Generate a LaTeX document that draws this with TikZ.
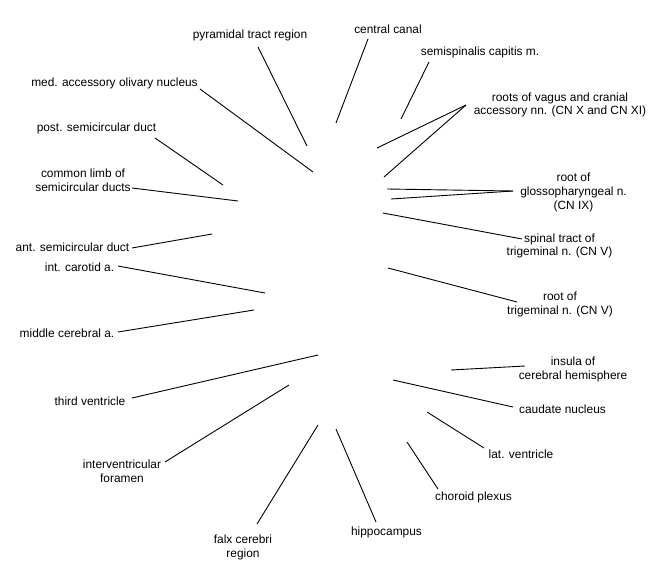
\documentclass[tikz,border=0pt]{standalone}
\usepackage{fontspec}
\setmainfont{Liberation Sans}
\begin{document}
\begin{tikzpicture}[x=1pt,y=-1pt,
  lbl/.style={inner sep=0pt,align=center,font=\fontsize{11.9}{13.6}\selectfont},
  ptr/.style={draw=black,line width=0.9pt}]
\useasboundingbox (0,0) rectangle (650,580);
% labels
\node[lbl] (pyr) at (250,35) {pyramidal tract region};
\node[lbl] (med) at (114.5,83) {med. accessory olivary nucleus};
\node[lbl] (post) at (96.5,128) {post. semicircular duct};
\node[lbl] (comm) at (83,180) {common limb of\\semicircular ducts};
\node[lbl] (ant) at (72.5,247) {ant. semicircular duct};
\node[lbl] (ica) at (79.5,267) {int. carotid a.};
\node[lbl] (mca) at (67,333) {middle cerebral a.};
\node[lbl] (third) at (90,401) {third ventricle};
\node[lbl] (ivf) at (122,471.5) {interventricular\\foramen};
\node[lbl] (falx) at (243,547.5) {falx cerebri\\region};
\node[lbl] (hip) at (386.5,532) {hippocampus};
\node[lbl] (chp) at (473.5,497) {choroid plexus};
\node[lbl] (latv) at (521,454) {lat. ventricle};
\node[lbl] (caud) at (562.5,409) {caudate nucleus};
\node[lbl] (ins) at (573,369.5) {insula of\\cerebral hemisphere};
\node[lbl] (rtri) at (560,304.5) {root of\\trigeminal n. (CN V)};
\node[lbl] (stri) at (559.5,246) {spinal tract of\\trigeminal n. (CN V)};
\node[lbl] (glos) at (573.5,192.5) {root of\\glossopharyngeal n.\\(CN IX)};
\node[lbl] (vag) at (560,105) {roots of vagus and cranial\\accessory nn. (CN X and CN XI)};
\node[lbl] (semi) at (480,52) {semispinalis capitis m.};
\node[lbl] (cc) at (388,29) {central canal};
% pointer ends
\coordinate (pyrP) at (307,146);
\coordinate (medP) at (313,172);
\coordinate (postP) at (223,185);
\coordinate (commP) at (238,201);
\coordinate (antP) at (212,234);
\coordinate (icaP) at (265,293);
\coordinate (mcaP) at (254,310);
\coordinate (thirdP) at (318,355);
\coordinate (ivfP) at (289,385);
\coordinate (falxP) at (318,425);
\coordinate (hipP) at (336,429);
\coordinate (chpP) at (407,442);
\coordinate (latvP) at (427,412);
\coordinate (caudP) at (393,380);
\coordinate (insP) at (451,370);
\coordinate (rtriP) at (388,268);
\coordinate (striP) at (383,213);
\coordinate (glosP1) at (387,189);
\coordinate (glosP2) at (391,199);
\coordinate (vagP1) at (377,148);
\coordinate (vagP2) at (384,177);
\coordinate (semiP) at (401,119);
\coordinate (ccP) at (336,123);
% connectors
\draw[ptr] ([shift={(8,12)}]pyr.center) -- (pyrP);
\draw[ptr] ([shift={(85.5,6)}]med.center) -- (medP);
\draw[ptr] ([shift={(58.5,10)}]post.center) -- (postP);
\draw[ptr] ([shift={(49,8)}]comm.center) -- (commP);
\draw[ptr] ([shift={(59.5,1)}]ant.center) -- (antP);
\draw[ptr] ([shift={(38.5,-1)}]ica.center) -- (icaP);
\draw[ptr] ([shift={(51,-1)}]mca.center) -- (mcaP);
\draw[ptr] ([shift={(42,-3)}]third.center) -- (thirdP);
\draw[ptr] ([shift={(43,-9.5)}]ivf.center) -- (ivfP);
\draw[ptr] ([shift={(14,-23.5)}]falx.center) -- (falxP);
\draw[ptr] ([shift={(-10.5,-10)}]hip.center) -- (hipP);
\draw[ptr] ([shift={(-35.5,-8)}]chp.center) -- (chpP);
\draw[ptr] ([shift={(-37,-6)}]latv.center) -- (latvP);
\draw[ptr] ([shift={(-49.5,-2)}]caud.center) -- (caudP);
\draw[ptr] ([shift={(-48,-3.5)}]ins.center) -- (insP);
\draw[ptr] ([shift={(-43,-2.5)}]rtri.center) -- (rtriP);
\draw[ptr] ([shift={(-37.5,-7)}]stri.center) -- (striP);
\draw[ptr] ([shift={(-60.5,-1.5)}]glos.center) -- (glosP1);
\draw[ptr] ([shift={(-60.5,-1.5)}]glos.center) -- (glosP2);
\draw[ptr] ([shift={(-94,0)}]vag.center) -- (vagP1);
\draw[ptr] ([shift={(-94,0)}]vag.center) -- (vagP2);
\draw[ptr] ([shift={(-51,10)}]semi.center) -- (semiP);
\draw[ptr] ([shift={(-20,10)}]cc.center) -- (ccP);
\end{tikzpicture}
\end{document}
